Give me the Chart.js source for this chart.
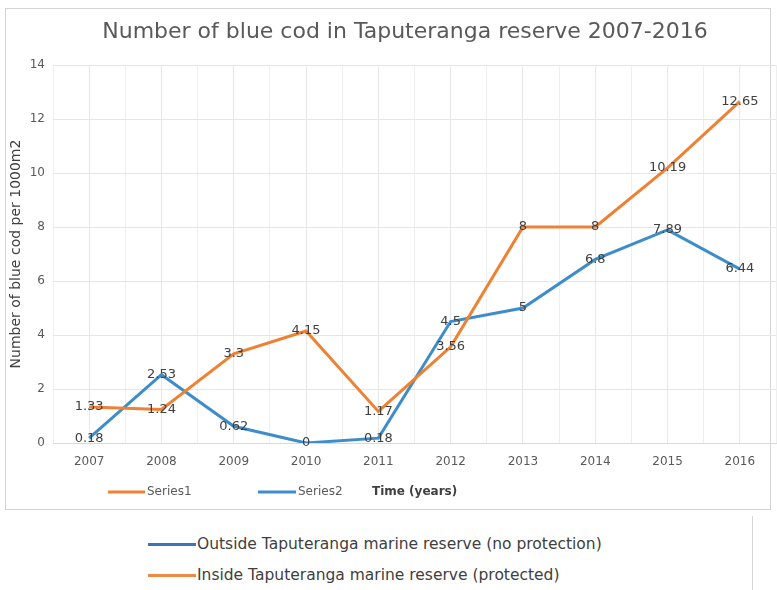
<!DOCTYPE html>
<html>
<head>
<meta charset="utf-8">
<script src="https://cdn.jsdelivr.net/npm/chart.js@4.4.1/dist/chart.umd.min.js"></script>
<style>
  body { margin: 0; background: #fff; font-family: "DejaVu Sans", sans-serif; }
  #wrap { position: absolute; left: 0; top: 0; width: 777px; height: 515px; }
  #key { position: absolute; left: 0; top: 516px; width: 752px; height: 74px; border-right: 1px solid #d6d6d6; }
  .row { position: absolute; left: 148px; font-size: 15.5px; color: #404040; white-space: nowrap; }
  .row span { display: inline-block; width: 48px; height: 3px; vertical-align: middle; margin-right: 1px; }
</style>
</head>
<body>
<div id="wrap"><canvas id="codChart"></canvas></div>
<div id="key">
  <div class="row" style="top:19px"><span style="background:#3b74b8"></span>Outside Taputeranga marine reserve (no protection)</div>
  <div class="row" style="top:50px"><span style="background:#ee8a45"></span>Inside Taputeranga marine reserve (protected)</div>
</div>
<script>
// survey years and blue cod counts per 1000m2
const years = ['2007', '2008', '2009', '2010', '2011', '2012', '2013', '2014', '2015', '2016'];
const inside = [1.33, 1.24, 3.3, 4.15, 1.17, 3.56, 8, 8, 10.19, 12.65];
const outside = [0.18, 2.53, 0.62, 0, 0.18, 4.5, 5, 6.8, 7.89, 6.44];
const yTicks = [0, 2, 4, 6, 8, 10, 12, 14];

const ORANGE = '#ee8133';
const BLUE = '#3d8dca';
const TEXT = '#595959';
const FONT = '"DejaVu Sans"';

// outer frame, title and the legend row under the axis
const decorations = {
  id: 'decorations',
  beforeDraw(chart) {
    const ctx = chart.ctx;
    ctx.save();
    ctx.strokeStyle = '#d4d4d4';
    ctx.lineWidth = 1;
    ctx.strokeRect(5.5, 8.5, 765, 501);
    ctx.restore();
  },
  afterDraw(chart) {
    const ctx = chart.ctx;
    ctx.save();
    ctx.fillStyle = TEXT;
    ctx.font = '22px ' + FONT;
    ctx.textAlign = 'center';
    ctx.textBaseline = 'middle';
    ctx.fillText('Number of blue cod in Taputeranga reserve 2007-2016', 405, 32);

    const y = 492;
    ctx.lineWidth = 3;
    ctx.strokeStyle = ORANGE;
    ctx.beginPath(); ctx.moveTo(108, y); ctx.lineTo(145, y); ctx.stroke();
    ctx.strokeStyle = BLUE;
    ctx.beginPath(); ctx.moveTo(258, y); ctx.lineTo(296, y); ctx.stroke();
    ctx.textAlign = 'left';
    ctx.font = '12px ' + FONT;
    ctx.fillText('Series1', 147, y);
    ctx.fillText('Series2', 298, y);
    ctx.fillStyle = '#404040';
    ctx.font = 'bold 12px ' + FONT;
    ctx.fillText('Time (years)', 372, y);
    ctx.restore();
  }
};

// value written on top of every point
const pointValues = {
  id: 'pointValues',
  afterDatasetsDraw(chart) {
    const ctx = chart.ctx;
    ctx.save();
    ctx.font = '13px ' + FONT;
    ctx.fillStyle = '#404040';
    ctx.textAlign = 'center';
    ctx.textBaseline = 'middle';
    chart.data.datasets.forEach((ds, i) => {
      chart.getDatasetMeta(i).data.forEach((pt, j) => {
        ctx.fillText(String(ds.data[j]), pt.x, pt.y);
      });
    });
    ctx.restore();
  }
};

new Chart(document.getElementById('codChart'), {
  type: 'line',
  data: {
    labels: years,
    datasets: [
      { label: 'Series1', data: inside, borderColor: ORANGE, borderWidth: 3, pointRadius: 0, tension: 0 },
      { label: 'Series2', data: outside, borderColor: BLUE, borderWidth: 3, pointRadius: 0, tension: 0 }
    ]
  },
  options: {
    responsive: true,
    maintainAspectRatio: false,
    animation: false,
    layout: { padding: { left: 6, right: 1, top: 65, bottom: 5 } },
    plugins: { legend: { display: false }, tooltip: { enabled: false } },
    scales: {
      x: {
        offset: true,
        grid: { offset: false, color: '#e8e8e8', drawTicks: false },
        border: { color: '#d9d9d9' },
        ticks: { color: TEXT, font: { size: 12, family: 'DejaVu Sans' }, padding: 12 },
        afterFit(scale) { scale.height = 67; }
      },
      x2: {
        type: 'category',
        labels: years,
        position: 'bottom',
        offset: true,
        grid: { offset: true, color: '#efefef', drawTicks: false },
        border: { display: false },
        ticks: { display: false },
        afterFit(scale) { scale.height = 0; }
      },
      y: {
        min: 0,
        max: 14,
        afterBuildTicks(scale) { scale.ticks = yTicks.map(v => ({ value: v })); },
        grid: { color: '#e6e6e6', drawTicks: false },
        border: { display: false },
        ticks: { color: TEXT, font: { size: 12, family: 'DejaVu Sans' }, padding: 8 },
        title: {
          display: true,
          text: 'Number of blue cod per 1000m2',
          color: '#404040',
          font: { size: 14, family: 'DejaVu Sans' },
          padding: { top: 2, bottom: 0 }
        },
        afterFit(scale) { scale.width = 47; }
      }
    }
  },
  plugins: [decorations, pointValues]
});
</script>
</body>
</html>
